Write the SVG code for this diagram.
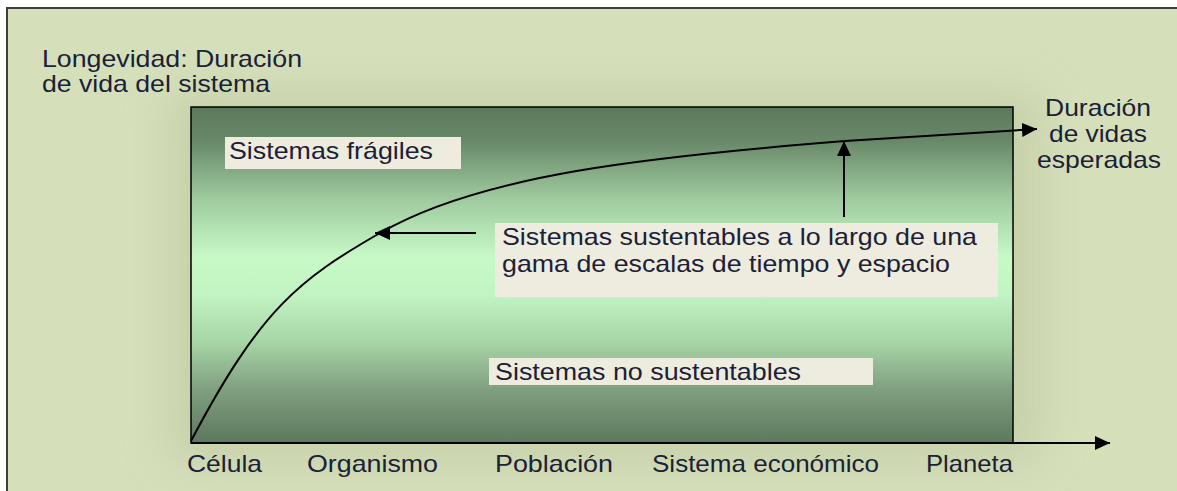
<svg xmlns="http://www.w3.org/2000/svg" width="1177" height="491" viewBox="0 0 1177 491">
  <defs>
    <linearGradient id="inner" x1="0" y1="0" x2="0" y2="1">
      <stop offset="0" stop-color="#5d795d"/>
      <stop offset="0.1" stop-color="#688868"/>
      <stop offset="0.27" stop-color="#9ec99e"/>
      <stop offset="0.45" stop-color="#c8fac8"/>
      <stop offset="0.56" stop-color="#c2f3c2"/>
      <stop offset="0.7" stop-color="#a6d5a6"/>
      <stop offset="0.84" stop-color="#809f80"/>
      <stop offset="1" stop-color="#5d785d"/>
    </linearGradient>
    <filter id="soft" x="-20%" y="-30%" width="140%" height="160%">
      <feGaussianBlur stdDeviation="22"/>
    </filter>
    <marker id="arrow" markerUnits="userSpaceOnUse" markerWidth="16" markerHeight="14" refX="15" refY="7" orient="auto">
      <path d="M0,0 L15,7 L0,14 z" fill="#000"/>
    </marker>
    <style>
      .t { font-family: "Liberation Sans", Arial, sans-serif; font-size: 24px; fill: #1b2136; }
      .lbl { fill: #eeebdf; }
      .ln { stroke: #000; stroke-width: 2; fill: none; }
    </style>
  </defs>

  <rect x="0" y="0" width="1177" height="491" fill="#ffffff"/>
  <rect x="7" y="8" width="1170" height="483" fill="#d5e0bb"/>
  <rect x="170" y="92" width="870" height="370" fill="#b9c49c" opacity="0.55" filter="url(#soft)"/>
  <path d="M7,491 L7,8 L1177,8" fill="none" stroke="#3c3c3c" stroke-width="2"/>

  <g id="chart">
    <rect x="191" y="107" width="822" height="336" fill="url(#inner)" stroke="#000" stroke-width="1.5"/>
  </g>

  <g id="connectors">
    <line class="ln" x1="191" y1="443" x2="1110" y2="443" marker-end="url(#arrow)"/>
    <path class="ln" d="M191,441 C261,308 300,279 380,233 C480,175 645,157 845,141 L1037,129" marker-end="url(#arrow)"/>
    <line class="ln" x1="476" y1="233" x2="375" y2="233" marker-end="url(#arrow)"/>
    <line class="ln" x1="844" y1="217" x2="844" y2="141" marker-end="url(#arrow)"/>
  </g>

  <g id="y-label">
    <text class="t" x="42" y="67" textLength="260" lengthAdjust="spacingAndGlyphs">Longevidad: Duración</text>
    <text class="t" x="42" y="92" textLength="228" lengthAdjust="spacingAndGlyphs">de vida del sistema</text>
  </g>

  <g id="fragiles">
    <rect class="lbl" x="225" y="137" width="236" height="32"/>
    <text class="t" x="229" y="159" textLength="204" lengthAdjust="spacingAndGlyphs">Sistemas frágiles</text>
  </g>

  <g id="sustentables">
    <rect class="lbl" x="495" y="223" width="503" height="74"/>
    <text class="t" x="502" y="245" textLength="475" lengthAdjust="spacingAndGlyphs">Sistemas sustentables a lo largo de una</text>
    <text class="t" x="502" y="272" textLength="448" lengthAdjust="spacingAndGlyphs">gama de escalas de tiempo y espacio</text>
  </g>

  <g id="no-sustentables">
    <rect class="lbl" x="489" y="358" width="384" height="27"/>
    <text class="t" x="495" y="380" textLength="306" lengthAdjust="spacingAndGlyphs">Sistemas no sustentables</text>
  </g>

  <g id="duracion">
    <text class="t" x="1045" y="116" textLength="106" lengthAdjust="spacingAndGlyphs">Duración</text>
    <text class="t" x="1049" y="142" textLength="98" lengthAdjust="spacingAndGlyphs">de vidas</text>
    <text class="t" x="1037" y="168" textLength="124" lengthAdjust="spacingAndGlyphs">esperadas</text>
  </g>

  <g id="x-labels">
    <text class="t" x="187" y="472" textLength="75" lengthAdjust="spacingAndGlyphs">Célula</text>
    <text class="t" x="307" y="472" textLength="131" lengthAdjust="spacingAndGlyphs">Organismo</text>
    <text class="t" x="495" y="472" textLength="118" lengthAdjust="spacingAndGlyphs">Población</text>
    <text class="t" x="652" y="472" textLength="227" lengthAdjust="spacingAndGlyphs">Sistema económico</text>
    <text class="t" x="926" y="472" textLength="87" lengthAdjust="spacingAndGlyphs">Planeta</text>
  </g>
</svg>
